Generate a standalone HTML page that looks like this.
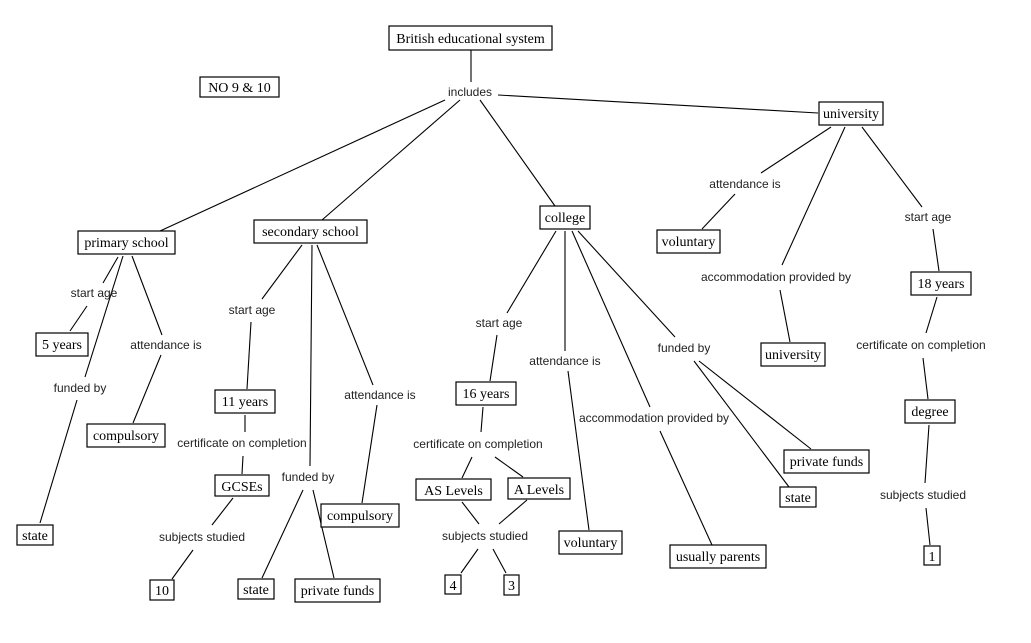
<!DOCTYPE html>
<html><head><meta charset="utf-8"><style>
html,body{margin:0;padding:0;background:#fff;}
svg{display:block}
.b{fill:#fff;stroke:#000;stroke-width:1.2}
.t{font-family:"Liberation Serif",serif;font-size:14px;fill:#000}
.l{font-family:"Liberation Sans",sans-serif;font-size:12px;fill:#222}
line{stroke:#000;stroke-width:1.1}
</style></head><body>
<svg width="1031" height="643" viewBox="0 0 1031 643" xmlns="http://www.w3.org/2000/svg">
<g>
<line x1="471" y1="50" x2="471" y2="82"/>
<line x1="445" y1="100" x2="160" y2="231"/>
<line x1="460" y1="100" x2="322" y2="220"/>
<line x1="480" y1="100" x2="555" y2="206"/>
<line x1="498" y1="95" x2="818" y2="113"/>
<line x1="118" y1="257" x2="103" y2="283"/>
<line x1="87" y1="306" x2="70" y2="331"/>
<line x1="123" y1="256" x2="85" y2="377"/>
<line x1="77" y1="400" x2="40" y2="523"/>
<line x1="132" y1="256" x2="162" y2="335"/>
<line x1="161" y1="355" x2="133" y2="423"/>
<line x1="302" y1="245" x2="262" y2="299"/>
<line x1="251" y1="322" x2="247" y2="389"/>
<line x1="245" y1="415" x2="245" y2="432"/>
<line x1="243" y1="456" x2="242" y2="474"/>
<line x1="233" y1="498" x2="212" y2="525"/>
<line x1="193" y1="550" x2="172" y2="579"/>
<line x1="312" y1="245" x2="310" y2="466"/>
<line x1="303" y1="490" x2="262" y2="578"/>
<line x1="313" y1="490" x2="334" y2="578"/>
<line x1="317" y1="245" x2="373" y2="385"/>
<line x1="377" y1="405" x2="362" y2="503"/>
<line x1="556" y1="231" x2="507" y2="313"/>
<line x1="497" y1="335" x2="490" y2="381"/>
<line x1="483" y1="407" x2="481" y2="432"/>
<line x1="472" y1="457" x2="462" y2="478"/>
<line x1="495" y1="457" x2="523" y2="477"/>
<line x1="462" y1="502" x2="479" y2="524"/>
<line x1="527" y1="500" x2="499" y2="524"/>
<line x1="478" y1="549" x2="461" y2="573"/>
<line x1="493" y1="549" x2="506" y2="573"/>
<line x1="565" y1="231" x2="565" y2="351"/>
<line x1="568" y1="371" x2="589" y2="530"/>
<line x1="572" y1="231" x2="650" y2="407"/>
<line x1="660" y1="431" x2="712" y2="545"/>
<line x1="578" y1="231" x2="675" y2="337"/>
<line x1="694" y1="361" x2="789" y2="487"/>
<line x1="699" y1="361" x2="811" y2="449"/>
<line x1="831" y1="127" x2="761" y2="173"/>
<line x1="735" y1="194" x2="702" y2="229"/>
<line x1="845" y1="127" x2="782" y2="265"/>
<line x1="780" y1="290" x2="790" y2="342"/>
<line x1="862" y1="127" x2="922" y2="207"/>
<line x1="933" y1="229" x2="939" y2="271"/>
<line x1="937" y1="297" x2="926" y2="333"/>
<line x1="923" y1="358" x2="928" y2="399"/>
<line x1="929" y1="425" x2="925" y2="483"/>
<line x1="926" y1="508" x2="930" y2="545"/>
</g>
<g>
<rect class="b" x="389" y="26" width="163" height="24"/><text class="t" x="470.5" y="43" text-anchor="middle">British educational system</text>
<rect class="b" x="200" y="77" width="79" height="20"/><text class="t" x="239.5" y="92" text-anchor="middle">NO 9 &amp; 10</text>
<rect class="b" x="819" y="102" width="64" height="23"/><text class="t" x="851" y="118" text-anchor="middle">university</text>
<rect class="b" x="78" y="231" width="97" height="23"/><text class="t" x="126.5" y="247" text-anchor="middle">primary school</text>
<rect class="b" x="254" y="220" width="113" height="23"/><text class="t" x="310.5" y="236" text-anchor="middle">secondary school</text>
<rect class="b" x="540" y="206" width="50" height="23"/><text class="t" x="565" y="222" text-anchor="middle">college</text>
<rect class="b" x="657" y="230" width="63" height="23"/><text class="t" x="688.5" y="246" text-anchor="middle">voluntary</text>
<rect class="b" x="36" y="333" width="52" height="23"/><text class="t" x="62" y="349" text-anchor="middle">5 years</text>
<rect class="b" x="215" y="390" width="60" height="23"/><text class="t" x="245" y="406" text-anchor="middle">11 years</text>
<rect class="b" x="87" y="424" width="78" height="23"/><text class="t" x="126" y="440" text-anchor="middle">compulsory</text>
<rect class="b" x="215" y="475" width="54" height="21"/><text class="t" x="242" y="491" text-anchor="middle">GCSEs</text>
<rect class="b" x="321" y="504" width="78" height="23"/><text class="t" x="360" y="520" text-anchor="middle">compulsory</text>
<rect class="b" x="17" y="525" width="36" height="20"/><text class="t" x="35" y="540" text-anchor="middle">state</text>
<rect class="b" x="150" y="580" width="24" height="20"/><text class="t" x="162" y="595" text-anchor="middle">10</text>
<rect class="b" x="238" y="579" width="36" height="20"/><text class="t" x="256" y="594" text-anchor="middle">state</text>
<rect class="b" x="295" y="579" width="85" height="23"/><text class="t" x="337.5" y="595" text-anchor="middle">private funds</text>
<rect class="b" x="456" y="382" width="60" height="23"/><text class="t" x="486" y="398" text-anchor="middle">16 years</text>
<rect class="b" x="416" y="479" width="75" height="21"/><text class="t" x="453.5" y="495" text-anchor="middle">AS  Levels</text>
<rect class="b" x="508" y="478" width="62" height="21"/><text class="t" x="539" y="494" text-anchor="middle">A Levels</text>
<rect class="b" x="559" y="531" width="63" height="23"/><text class="t" x="590.5" y="547" text-anchor="middle">voluntary</text>
<rect class="b" x="445" y="575" width="16" height="19"/><text class="t" x="453" y="590" text-anchor="middle">4</text>
<rect class="b" x="504" y="575" width="15" height="20"/><text class="t" x="511.5" y="590" text-anchor="middle">3</text>
<rect class="b" x="670" y="545" width="96" height="23"/><text class="t" x="718" y="561" text-anchor="middle">usually parents</text>
<rect class="b" x="761" y="343" width="64" height="23"/><text class="t" x="793" y="359" text-anchor="middle">university</text>
<rect class="b" x="784" y="450" width="85" height="23"/><text class="t" x="826.5" y="466" text-anchor="middle">private funds</text>
<rect class="b" x="780" y="487" width="36" height="20"/><text class="t" x="798" y="502" text-anchor="middle">state</text>
<rect class="b" x="911" y="272" width="60" height="23"/><text class="t" x="941" y="288" text-anchor="middle">18 years</text>
<rect class="b" x="905" y="400" width="50" height="23"/><text class="t" x="930" y="416" text-anchor="middle">degree</text>
<rect class="b" x="924" y="546" width="16" height="19"/><text class="t" x="932" y="561" text-anchor="middle">1</text>
</g>
<g class="l" text-anchor="middle">
<text class="l" x="470" y="96" text-anchor="middle">includes</text>
<text class="l" x="94" y="297" text-anchor="middle">start age</text>
<text class="l" x="166" y="349" text-anchor="middle">attendance is</text>
<text class="l" x="80" y="392" text-anchor="middle">funded by</text>
<text class="l" x="252" y="314" text-anchor="middle">start age</text>
<text class="l" x="242" y="447" text-anchor="middle">certificate on completion</text>
<text class="l" x="308" y="481" text-anchor="middle">funded by</text>
<text class="l" x="380" y="399" text-anchor="middle">attendance is</text>
<text class="l" x="202" y="541" text-anchor="middle">subjects studied</text>
<text class="l" x="499" y="327" text-anchor="middle">start age</text>
<text class="l" x="565" y="365" text-anchor="middle">attendance is</text>
<text class="l" x="654" y="422" text-anchor="middle">accommodation provided by</text>
<text class="l" x="684" y="352" text-anchor="middle">funded by</text>
<text class="l" x="478" y="448" text-anchor="middle">certificate on completion</text>
<text class="l" x="485" y="540" text-anchor="middle">subjects studied</text>
<text class="l" x="745" y="188" text-anchor="middle">attendance is</text>
<text class="l" x="776" y="281" text-anchor="middle">accommodation provided by</text>
<text class="l" x="928" y="221" text-anchor="middle">start age</text>
<text class="l" x="921" y="349" text-anchor="middle">certificate on completion</text>
<text class="l" x="923" y="499" text-anchor="middle">subjects studied</text>
</g>
</svg>
</body></html>
